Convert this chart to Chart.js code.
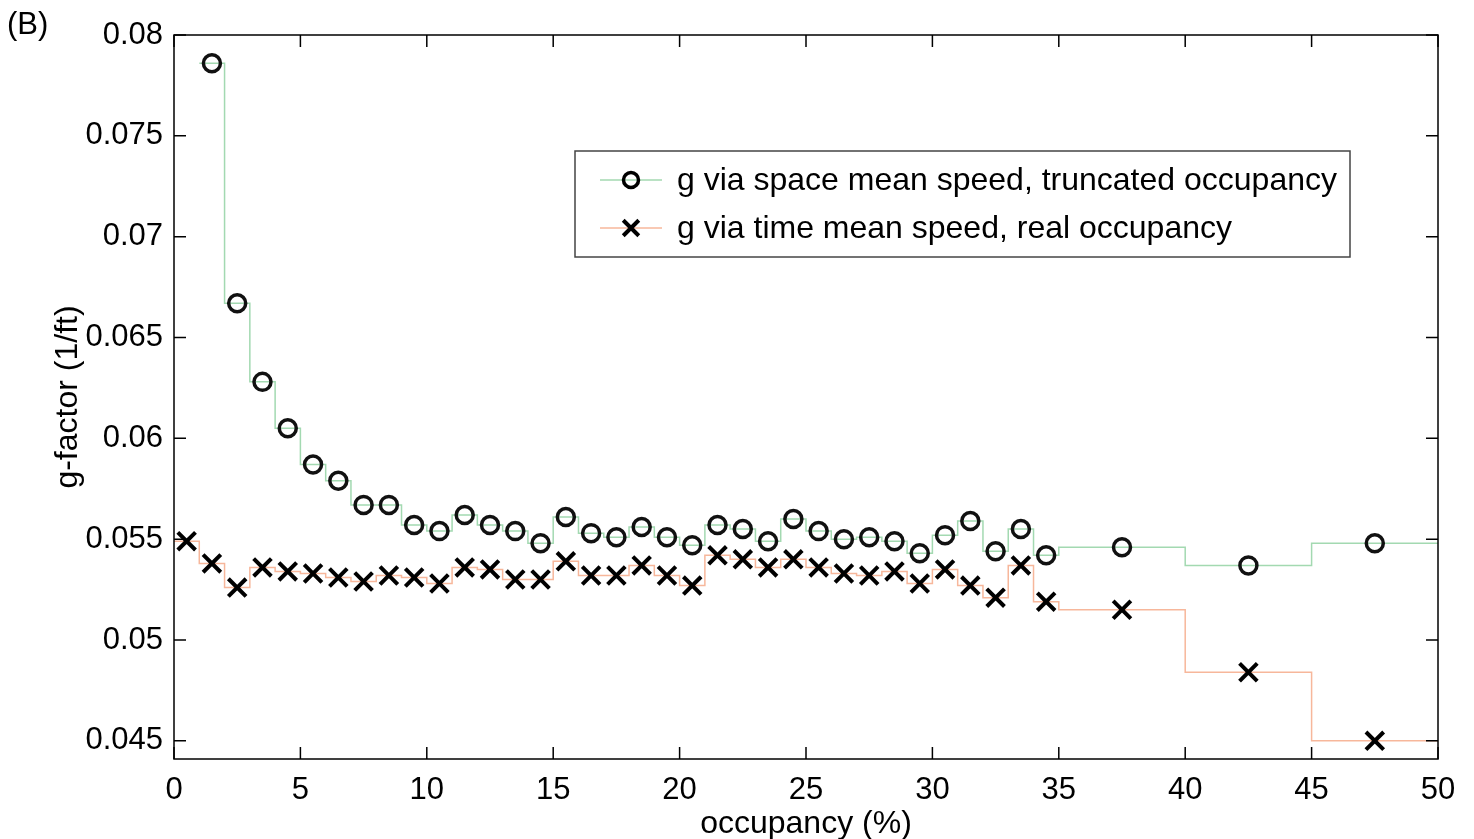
<!DOCTYPE html>
<html>
<head>
<meta charset="utf-8">
<script src="https://cdn.jsdelivr.net/npm/chart.js"></script>
<style>
  html, body { margin: 0; padding: 0; background: #fff; }
  #wrap { width: 1474px; height: 839px; position: relative; }
</style>
</head>
<body>
<div id="wrap"><canvas id="gchart"></canvas></div>
<script>
// bin edges of occupancy (%), each value covers [edge i, edge i+1]
const binEdges = [0,1,2,3,4,5,6,7,8,9,10,11,12,13,14,15,16,17,18,19,20,
  21,22,23,24,25,26,27,28,29,30,31,32,33,34,35,40,45,50];

// g via space mean speed, truncated occupancy (no value in the first bin)
const gSpace = [null,0.0786,0.0667,0.0628,0.0605,0.0587,0.0579,0.0567,0.0567,0.0557,
  0.0554,0.0562,0.0557,0.0554,0.0548,0.0561,0.0553,0.0551,0.0556,0.0551,
  0.0547,0.0557,0.0555,0.0549,0.0560,0.0554,0.0550,0.0551,0.0549,0.0543,
  0.0552,0.0559,0.0544,0.0555,0.0542,0.0546,0.0537,0.0548];

// g via time mean speed, real occupancy
const gTime = [0.0549,0.0538,0.0526,0.0536,0.0534,0.0533,0.0531,0.0529,0.0532,0.0531,
  0.0528,0.0536,0.0535,0.0530,0.0530,0.0539,0.0532,0.0532,0.0537,0.0532,
  0.0527,0.0542,0.0540,0.0536,0.0540,0.0536,0.0533,0.0532,0.0534,0.0528,
  0.0535,0.0527,0.0521,0.0537,0.0519,0.0515,0.0484,0.0450];

const xTicks = [0,5,10,15,20,25,30,35,40,45,50];
const yTicks = [0.045,0.05,0.055,0.06,0.065,0.07,0.075,0.08];

const labelSpace = 'g via space mean speed, truncated occupancy';
const labelTime = 'g via time mean speed, real occupancy';

const FONT = "'Liberation Sans', Arial, Helvetica, sans-serif";
const greenLine = '#a3d9b1';
const orangeLine = '#f7b79b';

// markers sit at bin centres
function markers(vals) {
  const pts = [];
  vals.forEach((v, i) => {
    if (v !== null) pts.push({x: (binEdges[i] + binEdges[i + 1]) / 2, y: v});
  });
  return pts;
}
// stairs: one point per left edge plus a closing point at the last edge
function stairs(vals) {
  const pts = [];
  vals.forEach((v, i) => {
    if (v !== null) pts.push({x: binEdges[i], y: v});
  });
  pts.push({x: binEdges[binEdges.length - 1], y: vals[vals.length - 1]});
  return pts;
}

const boxPlugin = {
  id: 'boxTicks',
  afterDatasetsDraw(chart) {
    const {ctx, chartArea: a, scales: {x, y}} = chart;
    ctx.save();
    ctx.strokeStyle = '#000';
    ctx.lineWidth = 1.5;
    ctx.strokeRect(a.left, a.top, a.right - a.left, a.bottom - a.top);
    const tl = 12;
    ctx.beginPath();
    xTicks.forEach(v => {
      const px = x.getPixelForValue(v);
      ctx.moveTo(px, a.bottom); ctx.lineTo(px, a.bottom - tl);
      ctx.moveTo(px, a.top); ctx.lineTo(px, a.top + tl);
    });
    yTicks.forEach(v => {
      const py = y.getPixelForValue(v);
      ctx.moveTo(a.left, py); ctx.lineTo(a.left + tl, py);
      ctx.moveTo(a.right, py); ctx.lineTo(a.right - tl, py);
    });
    ctx.stroke();
    ctx.restore();
  },
  afterDraw(chart) {
    const ctx = chart.ctx;
    ctx.save();
    // panel tag
    ctx.fillStyle = '#000';
    ctx.font = '31px ' + FONT;
    ctx.textBaseline = 'middle';
    ctx.textAlign = 'left';
    ctx.fillText('(B)', 7, 25);

    // legend box
    const bx = 575, by = 151, bw = 775, bh = 106;
    ctx.fillStyle = '#fff';
    ctx.fillRect(bx, by, bw, bh);
    ctx.strokeStyle = '#444';
    ctx.lineWidth = 1.5;
    ctx.strokeRect(bx, by, bw, bh);
    const rows = [
      {ds: chart.data.datasets[0], line: greenLine, y: 180},
      {ds: chart.data.datasets[1], line: orangeLine, y: 228}
    ];
    rows.forEach(r => {
      ctx.strokeStyle = r.line;
      ctx.lineWidth = 1.5;
      ctx.beginPath();
      ctx.moveTo(600, r.y); ctx.lineTo(662, r.y);
      ctx.stroke();
      ctx.strokeStyle = '#000';
      ctx.fillStyle = 'rgba(0,0,0,0)';
      ctx.lineWidth = r.ds.pointBorderWidth;
      Chart.helpers.drawPoint(ctx, {
        pointStyle: r.ds.pointStyle,
        radius: r.ds.pointStyle === 'circle' ? 7.5 : 11,
        borderWidth: r.ds.pointBorderWidth,
        rotation: 0
      }, 631, r.y);
      ctx.fillStyle = '#000';
      ctx.font = '32px ' + FONT;
      ctx.textBaseline = 'middle';
      ctx.fillText(r.ds.label, 677, r.y + 1);
    });
    ctx.restore();
  }
};

new Chart(document.getElementById('gchart'), {
  type: 'scatter',
  data: {
    datasets: [
      {
        label: labelSpace,
        data: markers(gSpace),
        showLine: false,
        pointStyle: 'circle',
        pointRadius: 8.5,
        pointBorderWidth: 3.5,
        pointBorderColor: '#111',
        pointBackgroundColor: 'rgba(0,0,0,0)'
      },
      {
        label: labelTime,
        data: markers(gTime),
        showLine: false,
        pointStyle: 'crossRot',
        pointRadius: 12.5,
        pointBorderWidth: 4,
        pointBorderColor: '#000',
        pointBackgroundColor: 'rgba(0,0,0,0)'
      },
      {
        label: 'space stairs',
        data: stairs(gSpace),
        showLine: true,
        stepped: 'before',
        borderColor: greenLine,
        borderWidth: 1.5,
        pointRadius: 0,
        fill: false
      },
      {
        label: 'time stairs',
        data: stairs(gTime),
        showLine: true,
        stepped: 'before',
        borderColor: orangeLine,
        borderWidth: 1.5,
        pointRadius: 0,
        fill: false
      }
    ]
  },
  options: {
    responsive: true,
    maintainAspectRatio: false,
    animation: false,
    layout: { padding: { left: 0, top: 35, right: 36, bottom: 0 } },
    plugins: {
      legend: { display: false },
      tooltip: { enabled: false },
      title: { display: false }
    },
    scales: {
      x: {
        type: 'linear',
        min: 0,
        max: 50,
        grid: { display: false },
        border: { display: false },
        afterFit: s => { s.height = 80; },
        afterBuildTicks: s => { s.ticks = xTicks.map(v => ({value: v})); },
        ticks: {
          color: '#000',
          padding: 5,
          font: { family: FONT, size: 31 },
          callback: v => String(v)
        },
        title: {
          display: true,
          text: 'occupancy (%)',
          color: '#000',
          font: { family: FONT, size: 32, lineHeight: 1 },
          padding: { top: 0, bottom: -1 }
        }
      },
      y: {
        type: 'linear',
        min: 0.0441,
        max: 0.08,
        grid: { display: false },
        border: { display: false },
        afterFit: s => { s.width = 174; },
        afterBuildTicks: s => { s.ticks = yTicks.map(v => ({value: v})); },
        ticks: {
          color: '#000',
          padding: 3,
          font: { family: FONT, size: 31 },
          callback: v => String(+v.toFixed(3))
        },
        title: {
          display: true,
          text: 'g-factor (1/ft)',
          color: '#000',
          font: { family: FONT, size: 32, lineHeight: 1 },
          padding: { top: 52, bottom: 0 }
        }
      }
    }
  },
  plugins: [boxPlugin]
});
</script>
</body>
</html>
